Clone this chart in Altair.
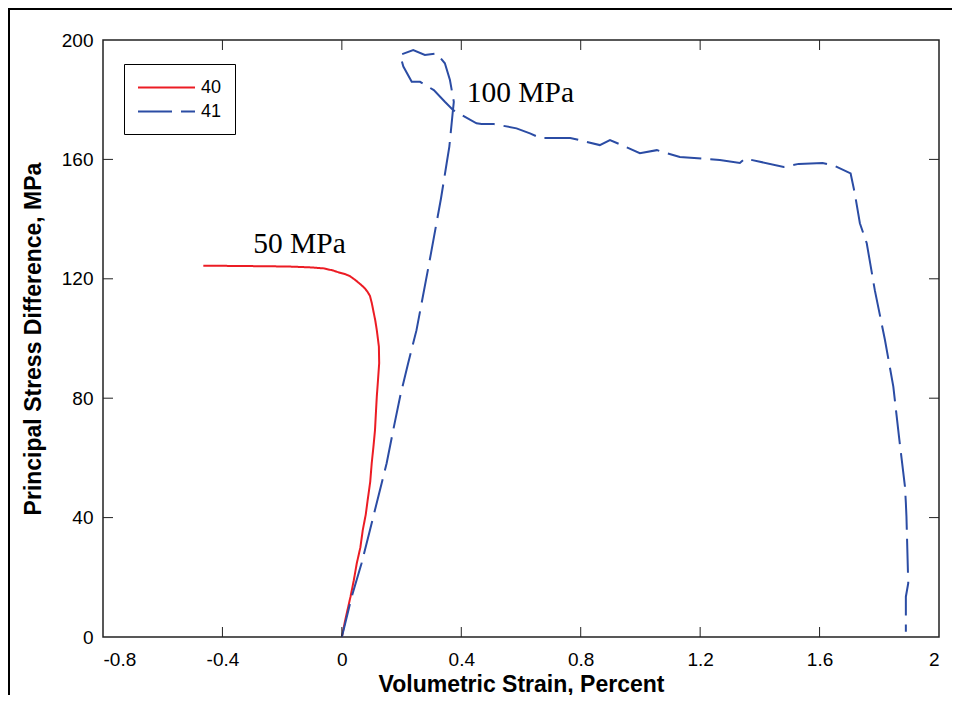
import altair as alt
import pandas as pd

# ---- data ----
series_names = ["40", "41"]

red_strain = [0.000, 0.012, 0.029, 0.040, 0.050, 0.062, 0.070, 0.080, 0.088, 0.095,
              0.100, 0.106, 0.111, 0.114, 0.117, 0.121, 0.125, 0.124, 0.120, 0.117,
              0.112, 0.105, 0.100, 0.094, 0.085, 0.075, 0.062, 0.045, 0.027, 0.010,
              -0.006, -0.030, -0.062, -0.100, -0.174, -0.250, -0.350, -0.464]
red_stress = [0.0, 6.0, 13.5, 19.0, 24.7, 30.0, 35.8, 41.0, 47.0, 52.0,
              58.2, 64.0, 69.3, 75.0, 80.5, 86.0, 91.7, 97.3, 100.5, 102.8,
              106.0, 109.5, 112.0, 114.3, 115.8, 117.0, 118.2, 119.6, 120.9, 121.6,
              122.0, 122.8, 123.5, 123.8, 124.1, 124.2, 124.3, 124.4]

blue_strain = [0.000, 0.033, 0.066, 0.094, 0.122, 0.150, 0.172, 0.195, 0.222, 0.250,
               0.292, 0.332, 0.351, 0.360, 0.371, 0.375, 0.362, 0.345, 0.317, 0.278,
               0.239, 0.195, 0.206, 0.234, 0.262, 0.308, 0.345, 0.373, 0.451, 0.468,
               0.507, 0.585, 0.630, 0.664, 0.765, 0.864, 0.898, 0.998, 1.055, 1.132,
               1.266, 1.333, 1.350, 1.480, 1.530, 1.610, 1.651, 1.704, 1.718, 1.735,
               1.758, 1.785, 1.819, 1.847, 1.866, 1.886, 1.889, 1.891, 1.897, 1.889,
               1.889]
blue_stress = [0.0, 13.5, 24.7, 35.8, 47.0, 58.2, 69.3, 80.5, 91.7, 102.8,
               125.0, 146.9, 158.7, 164.3, 175.4, 179.3, 186.6, 192.2, 195.5, 195.0,
               196.6, 195.0, 191.1, 186.0, 186.0, 183.2, 179.3, 176.5, 172.1, 171.9,
               171.9, 170.4, 168.7, 167.2, 167.2, 164.8, 166.5, 162.1, 163.1, 160.8,
               159.8, 158.8, 160.3, 157.5, 158.5, 158.8, 157.8, 155.3, 148.6, 138.6,
               131.9, 116.2, 99.5, 83.9, 67.1, 50.4, 44.9, 40.3, 18.0, 13.5,
               1.8]

x_ticks = [-0.8, -0.4, 0, 0.4, 0.8, 1.2, 1.6, 2]
y_ticks = [0, 40, 80, 120, 160, 200]

note_text = ["50 MPa", "100 MPa"]
note_x = [-0.297, 0.418]
note_y = [128.7, 179.3]

# ---- build tables ----
rows = []
for name, xs, ys in ((series_names[0], red_strain, red_stress),
                     (series_names[1], blue_strain, blue_stress)):
    for i, (a, b) in enumerate(zip(xs, ys)):
        rows.append({"series": name, "strain": a, "stress": b, "idx": i})
df = pd.DataFrame(rows)

W, H = 836, 597
RED, BLUE = "#ec1c24", "#2b4ca4"
XT = "Volumetric Strain, Percent"
YT = "Principal Stress Difference, MPa"

xscale = alt.Scale(domain=[-0.8, 2], nice=False, zero=False)
yscale = alt.Scale(domain=[0, 200], nice=False, zero=False)

x_axis = alt.Axis(values=x_ticks, labelExpr="replace(format(datum.value, '~g'), '\u2212', '-')")
y_axis = alt.Axis(values=y_ticks, format="d")

frame = alt.Chart(pd.DataFrame({"k": [0]})).mark_rect(
    filled=False, stroke="black", strokeWidth=2
).encode(
    x=alt.value(-94), x2=alt.value(W + 60), y=alt.value(-31), y2=alt.value(H + 120)
)

lines = alt.Chart(df).mark_line(strokeWidth=2).encode(
    x=alt.X("strain:Q", scale=xscale, axis=x_axis, title=XT),
    y=alt.Y("stress:Q", scale=yscale, axis=y_axis, title=YT),
    color=alt.Color("series:N", scale=alt.Scale(domain=series_names, range=[RED, BLUE]),
                    legend=alt.Legend(title=None)),
    strokeDash=alt.StrokeDash("series:N", scale=alt.Scale(domain=series_names, range=[[1, 0], [34, 9]]),
                              legend=alt.Legend(title=None)),
    order=alt.Order("idx:Q"),
)

xt_df = pd.DataFrame({"strain": x_ticks[1:-1]})
yt_df = pd.DataFrame({"stress": y_ticks[1:-1]})
tick_style = dict(color="#222", strokeWidth=1)

bottom_ticks = alt.Chart(xt_df).mark_rule(**tick_style).encode(
    x=alt.X("strain:Q", scale=xscale, title=XT), y=alt.value(H), y2=alt.value(H - 10))
top_ticks = alt.Chart(xt_df).mark_rule(**tick_style).encode(
    x=alt.X("strain:Q", scale=xscale, title=XT), y=alt.value(0), y2=alt.value(10))
left_ticks = alt.Chart(yt_df).mark_rule(**tick_style).encode(
    y=alt.Y("stress:Q", scale=yscale, title=YT), x=alt.value(0), x2=alt.value(10))
right_ticks = alt.Chart(yt_df).mark_rule(**tick_style).encode(
    y=alt.Y("stress:Q", scale=yscale, title=YT), x=alt.value(W), x2=alt.value(W - 10))

notes_df = pd.DataFrame({"strain": note_x, "stress": note_y, "label": note_text})
notes = alt.Chart(notes_df).mark_text(
    align="left", baseline="alphabetic", font="Liberation Serif", fontSize=29.5, color="black"
).encode(
    x=alt.X("strain:Q", scale=xscale, title=XT),
    y=alt.Y("stress:Q", scale=yscale, title=YT),
    text="label:N",
)

chart = alt.layer(
    frame, lines, bottom_ticks, top_ticks, left_ticks, right_ticks, notes
).properties(
    width=W, height=H,
    padding={"left": 95, "top": 32, "right": 13, "bottom": 58},
    autosize=alt.AutoSizeParams(type="none"),
    background="white",
).configure_view(
    stroke="#222", strokeWidth=1.5
).configure_axis(
    grid=False, domain=False, ticks=False, tickSize=0,
    labelFont="Liberation Sans", labelFontSize=19, labelColor="black",
    titleFont="Liberation Sans", titleFontSize=23, titleFontWeight="bold", titleColor="black",
).configure_axisX(
    labelPadding=13, titlePadding=4
).configure_axisY(
    labelPadding=10, titlePadding=16
).configure_legend(
    orient="none", legendX=21, legendY=24,
    strokeColor="black", fillColor="white", padding=13,
    symbolType="M-1,0H5", symbolSize=361, symbolStrokeWidth=2,
    labelFont="Liberation Sans", labelFontSize=18, labelColor="black",
    labelOffset=43, rowPadding=4,
)

chart.save("out.html", embed_options={"renderer": "svg", "actions": False})
